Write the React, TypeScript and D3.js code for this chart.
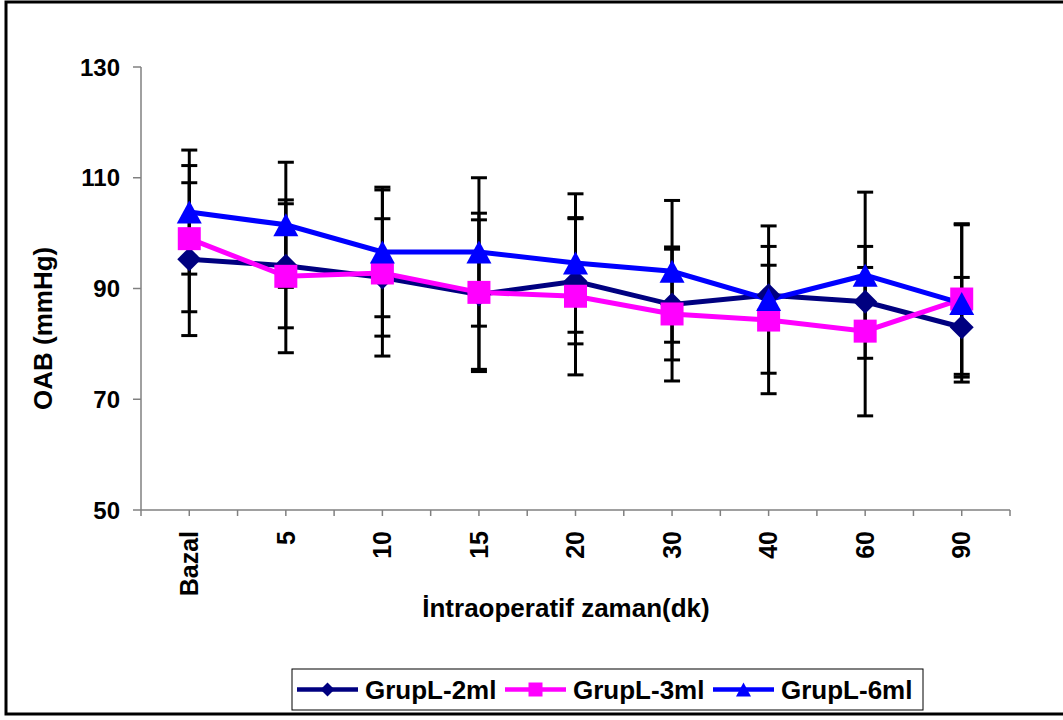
import React from 'react';
import * as d3 from 'd3';

// time points (minutes)
const categories = ['Bazal', '5', '10', '15', '20', '30', '40', '60', '90'];

// mean and SD per group
const grup2Mean = [95.3, 94.1, 92.0, 88.9, 91.3, 87.1, 88.8, 87.6, 83.0];
const grup2Sd = [13.8, 11.2, 10.6, 13.5, 11.3, 10.0, 5.4, 6.2, 9.0];
const grup3Mean = [99.0, 92.2, 92.8, 89.3, 88.6, 85.4, 84.3, 82.3, 88.1];
const grup3Sd = [13.2, 13.8, 15.0, 14.3, 14.2, 12.1, 13.3, 15.3, 13.6];
const grup6Mean = [103.8, 101.5, 96.6, 96.6, 94.6, 93.1, 88.0, 92.4, 87.3];
const grup6Sd = [11.2, 11.3, 11.7, 13.4, 12.5, 12.8, 13.3, 15.0, 14.2];

const yTicks = [50, 70, 90, 110, 130];

const seriesNames = ['GrupL-2ml', 'GrupL-3ml', 'GrupL-6ml'];
const seriesColors = ['#000080', '#FF00FF', '#0000FF'];
const seriesShapes = ['diamond', 'square', 'triangle'];

const FONT = 'Arial, "Liberation Sans", sans-serif';

// Excel-like marker outlines, r = half width
const marker = (shape, r) => {
  const p = d3.path();
  if (shape === 'diamond') {
    p.moveTo(0, -r); p.lineTo(r, 0); p.lineTo(0, r); p.lineTo(-r, 0);
  } else if (shape === 'square') {
    p.rect(-r, -r, 2 * r, 2 * r);
  } else {
    const h = r * 0.92;
    p.moveTo(0, -h); p.lineTo(r, h); p.lineTo(-r, h);
  }
  p.closePath();
  return p.toString();
};

const App = () => {
  const width = 1063;
  const height = 720;
  const margin = { top: 67, right: 53, bottom: 210, left: 141 };
  const innerW = width - margin.left - margin.right;
  const innerH = height - margin.top - margin.bottom;

  const x = d3.scaleBand().domain(categories).range([0, innerW]).padding(0);
  const y = d3.scaleLinear().domain([50, 130]).range([innerH, 0]);
  const cx = (c) => x(c) + x.bandwidth() / 2;

  const series = [
    { mean: grup2Mean, sd: grup2Sd },
    { mean: grup3Mean, sd: grup3Sd },
    { mean: grup6Mean, sd: grup6Sd },
  ];

  const line = d3.line().x((d) => cx(d.c)).y((d) => y(d.v));

  const markR = [12, 11.5, 12.5];
  const legR = [7, 7, 7.5];

  // x ticks: category borders and centres
  const xTickPos = [];
  categories.forEach((c) => {
    xTickPos.push(x(c));
    xTickPos.push(cx(c));
  });
  xTickPos.push(innerW);

  return (
    <svg width={width} height={height} style={{ position: 'absolute', left: 0, top: 0 }} fontFamily={FONT}>
      <rect x={0} y={0} width={width} height={height} fill="#fff" />
      {/* outer frame */}
      <rect x={6} y={2} width={width + 20} height={712} fill="none" stroke="#000" strokeWidth={3} />

      <g transform={`translate(${margin.left},${margin.top})`}>
        {/* y axis */}
        <line x1={0} x2={0} y1={0} y2={innerH} stroke="#808080" strokeWidth={1.5} />
        {yTicks.map((t) => (
          <g key={t}>
            <line x1={-8} x2={0} y1={y(t)} y2={y(t)} stroke="#808080" strokeWidth={1.5} />
            <text x={-21} y={y(t)} dy="0.36em" textAnchor="end" fontSize={24} fontWeight="bold">
              {t}
            </text>
          </g>
        ))}

        {/* x axis */}
        <line x1={0} x2={innerW} y1={innerH} y2={innerH} stroke="#808080" strokeWidth={1.5} />
        {xTickPos.map((p, i) => (
          <line key={i} x1={p} x2={p} y1={innerH} y2={innerH + 6} stroke="#808080" strokeWidth={1.5} />
        ))}
        {categories.map((c) => (
          <text
            key={c}
            transform={`translate(${cx(c)},${innerH + 21}) rotate(-90)`}
            dy="0.35em"
            textAnchor="end"
            fontSize={25}
            fontWeight="bold"
          >
            {c}
          </text>
        ))}

        {/* error bars */}
        {series.map((s, si) =>
          categories.map((c, i) => {
            const hi = y(s.mean[i] + s.sd[i]);
            const lo = y(s.mean[i] - s.sd[i]);
            const xc = cx(c);
            return (
              <g key={`e${si}-${i}`} stroke="#000" strokeWidth={3}>
                <line x1={xc} x2={xc} y1={hi} y2={lo} />
                <line x1={xc - 8} x2={xc + 8} y1={hi} y2={hi} />
                <line x1={xc - 8} x2={xc + 8} y1={lo} y2={lo} />
              </g>
            );
          })
        )}

        {/* lines */}
        {series.map((s, si) => (
          <path
            key={`l${si}`}
            d={line(categories.map((c, i) => ({ c, v: s.mean[i] })))}
            fill="none"
            stroke={seriesColors[si]}
            strokeWidth={5}
          />
        ))}

        {/* markers */}
        {series.map((s, si) =>
          categories.map((c, i) => (
            <path
              key={`m${si}-${i}`}
              transform={`translate(${cx(c)},${y(s.mean[i])})`}
              d={marker(seriesShapes[si], markR[si])}
              fill={seriesColors[si]}
            />
          ))
        )}
      </g>

      {/* axis titles */}
      <text x={566} y={617} textAnchor="middle" fontSize={26} fontWeight="bold">
        İntraoperatif zaman(dk)
      </text>
      <text transform="translate(52,410) rotate(-90)" textAnchor="start" fontSize={26} fontWeight="bold">
        OAB (mmHg)
      </text>

      {/* legend */}
      <g>
        <rect x={292} y={669} width={631} height={41} fill="#fff" stroke="#000" strokeWidth={1} />
        {seriesNames.map((n, i) => {
          const lx = 297 + i * 208;
          const ly = 689.5;
          return (
            <g key={n}>
              <line x1={lx} x2={lx + 61} y1={ly} y2={ly} stroke={seriesColors[i]} strokeWidth={4.5} />
              <path
                transform={`translate(${lx + 30.5},${ly})`}
                d={marker(seriesShapes[i], legR[i])}
                fill={seriesColors[i]}
              />
              <text x={lx + 68} y={ly} dy="0.36em" fontSize={26} fontWeight="bold">
                {n}
              </text>
            </g>
          );
        })}
      </g>
    </svg>
  );
};

export default App;
